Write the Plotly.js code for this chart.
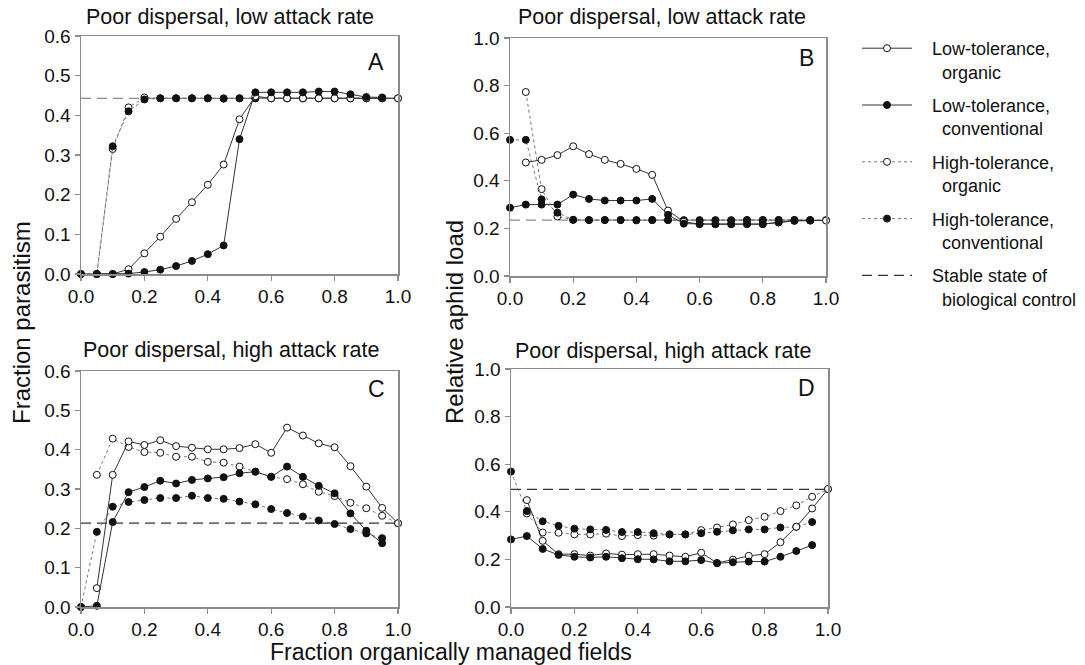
<!DOCTYPE html>
<html>
<head>
<meta charset="utf-8">
<script src="https://cdn.plot.ly/plotly-3.0.1.min.js"></script>
<style>html,body{margin:0;padding:0;background:#fff}#chart{width:1085px;height:665px}</style>
</head>
<body>
<div id="chart"></div>
<script>
// ---- data ----
const xFrac = [0,0.05,0.1,0.15,0.2,0.25,0.3,0.35,0.4,0.45,0.5,0.55,0.6,0.65,0.7,0.75,0.8,0.85,0.9,0.95,1.0];

const NB = "\u00A0";
const seriesNames = [NB+NB+NB+"Low-tolerance,<br>"+NB+NB+NB+NB+NB+"organic",
                     NB+NB+NB+"Low-tolerance,<br>"+NB+NB+NB+NB+NB+"conventional",
                     NB+NB+NB+"High-tolerance,<br>"+NB+NB+NB+NB+NB+"organic",
                     NB+NB+NB+"High-tolerance,<br>"+NB+NB+NB+NB+NB+"conventional",
                     NB+NB+NB+"Stable state of<br>"+NB+NB+NB+NB+NB+"biological control"];

// Panel A: fraction parasitism, poor dispersal, low attack rate
const A_lowOrg  = [null,0,0,0.012,0.052,0.094,0.139,0.181,0.225,0.276,0.39,0.448,0.443,0.443,0.443,0.443,0.443,0.443,0.443,0.443,0.443];
const A_lowCon  = [0,0,0,0.001,0.005,0.011,0.02,0.033,0.05,0.072,0.34,0.458,0.458,0.458,0.458,0.46,0.46,0.453,0.446,0.445,null];
const A_highOrg = [null,0,0.315,0.42,0.445,0.443,0.443,0.443,0.443,0.443,0.443,0.443,0.443,0.443,0.443,0.443,0.443,0.443,0.443,0.443,0.443];
const A_highCon = [0,0,0.322,0.41,0.44,0.443,0.443,0.443,0.443,0.442,0.443,0.443,0.443,0.443,0.443,0.443,0.443,0.443,0.443,0.443,null];

// Panel B: relative aphid load, poor dispersal, low attack rate
const B_lowOrg  = [null,0.477,0.488,0.508,0.545,0.512,0.488,0.471,0.45,0.425,0.275,0.228,0.218,0.218,0.218,0.218,0.218,0.225,0.232,0.233,0.233];
const B_lowCon  = [0.287,0.3,0.3,0.3,0.342,0.324,0.317,0.317,0.317,0.324,0.257,0.22,0.218,0.218,0.218,0.218,0.218,0.225,0.232,0.233,null];
const B_highOrg = [null,0.773,0.365,0.25,0.236,0.235,0.235,0.235,0.235,0.235,0.235,0.235,0.235,0.235,0.235,0.235,0.235,0.235,0.235,0.235,0.235];
const B_highCon = [0.572,0.572,0.322,0.266,0.236,0.235,0.235,0.235,0.234,0.235,0.235,0.233,0.233,0.233,0.233,0.235,0.235,0.235,0.235,0.235,null];

// Panel C: fraction parasitism, poor dispersal, high attack rate
const C_lowOrg  = [null,0.048,0.336,0.421,0.412,0.424,0.409,0.405,0.401,0.401,0.404,0.414,0.392,0.456,0.436,0.416,0.406,0.358,0.306,0.252,0.213];
const C_lowCon  = [0,0.003,0.216,0.292,0.305,0.321,0.314,0.323,0.327,0.33,0.34,0.344,0.331,0.357,0.331,0.308,0.289,0.238,0.194,0.162,null];
const C_highOrg = [null,0.336,0.428,0.407,0.394,0.392,0.382,0.382,0.369,0.367,0.357,0.344,0.331,0.325,0.312,0.293,0.282,0.265,0.251,0.232,0.213];
const C_highCon = [0,0.191,0.255,0.267,0.272,0.277,0.277,0.283,0.277,0.275,0.268,0.261,0.249,0.239,0.23,0.22,0.211,0.198,0.187,0.175,null];

// Panel D: relative aphid load, poor dispersal, high attack rate
const D_lowOrg  = [null,0.449,0.278,0.222,0.222,0.216,0.225,0.22,0.222,0.222,0.216,0.211,0.228,0.185,0.199,0.215,0.222,0.272,0.337,0.414,0.496];
const D_lowCon  = [0.284,0.298,0.244,0.219,0.211,0.208,0.211,0.205,0.201,0.2,0.192,0.192,0.197,0.184,0.188,0.191,0.191,0.211,0.235,0.26,null];
const D_highOrg = [null,0.393,0.313,0.312,0.305,0.305,0.308,0.298,0.302,0.3,0.305,0.305,0.323,0.334,0.347,0.365,0.379,0.403,0.427,0.463,0.495];
const D_highCon = [0.569,0.403,0.36,0.341,0.329,0.326,0.324,0.315,0.315,0.31,0.305,0.305,0.31,0.316,0.322,0.326,0.326,0.334,0.337,0.357,null];

// Stable state of biological control per panel
const stableA = 0.443, stableB = 0.235, stableC = 0.213, stableD = 0.494;

const panelTitles = ["Poor dispersal, low attack rate","Poor dispersal, low attack rate","Poor dispersal, high attack rate","Poor dispersal, high attack rate"];
const panelLetters = ["A","B","C","D"];

// ---- build ----
const FONT = "Arial, Liberation Sans, Helvetica, sans-serif";
const W = 1085, H = 665;
const px = v => v / W;
const py = v => 1 - v / H;

const panels = [
  {xa:'x',  ya:'y',  data:[A_lowOrg,A_lowCon,A_highOrg,A_highCon], stable:stableA, dashColor:'#8a8a8a'},
  {xa:'x2', ya:'y2', data:[B_lowOrg,B_lowCon,B_highOrg,B_highCon], stable:stableB, dashColor:'#8a8a8a'},
  {xa:'x3', ya:'y3', data:[C_lowOrg,C_lowCon,C_highOrg,C_highCon], stable:stableC, dashColor:'#333333'},
  {xa:'x4', ya:'y4', data:[D_lowOrg,D_lowCon,D_highOrg,D_highCon], stable:stableD, dashColor:'#333333'}
];

const styles = [
  {dash:'solid', lc:'#333', lw:1, fill:'#ffffff'},
  {dash:'solid', lc:'#333', lw:1, fill:'#111111'},
  {dash:'dot',   lc:'#777', lw:1, fill:'#ffffff'},
  {dash:'dot',   lc:'#777', lw:1, fill:'#111111'}
];

const traces = [];
// stable dashed lines first (behind)
panels.forEach((p, pi) => {
  traces.push({
    x:[xFrac[0], xFrac[xFrac.length-1]], y:[p.stable, p.stable],
    xaxis:p.xa, yaxis:p.ya, mode:'lines', type:'scatter',
    line:{color:p.dashColor, width:1.2, dash:'10px,6px'},
    name:seriesNames[4], legendgroup:'g5', legendrank:5,
    showlegend: pi===2, hoverinfo:'skip', cliponaxis:false
  });
});
// series: dotted first then solid, conventional on top of organic
const order = [2,3,0,1];
panels.forEach((p, pi) => {
  order.forEach(si => {
    const s = styles[si];
    traces.push({
      x:xFrac, y:p.data[si], xaxis:p.xa, yaxis:p.ya,
      type:'scatter', mode:'lines+markers', connectgaps:false, cliponaxis:false,
      line:{color:s.lc, width:s.lw, dash:s.dash},
      marker:{symbol:'circle', size:7, color:s.fill, line:{color:'#111', width:1}},
      name:seriesNames[si], legendgroup:'g'+(si+1), legendrank:si+1,
      showlegend: pi===0
    });
  });
});

function xAxis(domain, anchor){
  return {domain:domain, anchor:anchor, range:[0,1], tickvals:[0,0.2,0.4,0.6,0.8,1.0], tickformat:'.1f',
    showline:true, linecolor:'#8c8c8c', linewidth:1.5, mirror:true, ticks:'outside', ticklen:5, tickwidth:1.2, tickcolor:'#8c8c8c',
    showgrid:false, zeroline:false, tickfont:{family:FONT, size:19, color:'#111'}, fixedrange:true};
}
function yAxis(domain, anchor, max, step){
  const tv=[]; for(let v=0; v<=max+1e-9; v+=step) tv.push(+v.toFixed(2));
  return {domain:domain, anchor:anchor, range:[0,max], tickvals:tv, tickformat:'.1f',
    showline:true, linecolor:'#8c8c8c', linewidth:1.5, mirror:true, ticks:'outside', ticklen:5, tickwidth:1.2, tickcolor:'#8c8c8c',
    showgrid:false, zeroline:false, tickfont:{family:FONT, size:19, color:'#111'}, fixedrange:true};
}

const annotations = [];
const titlePos = [[230,17],[662,17],[231,350],[663,351]];
const letterPos = [[376,62],[806,58],[376,389],[806,388]];
panelTitles.forEach((t,i)=>{
  annotations.push({text:t, xref:'paper', yref:'paper', x:px(titlePos[i][0]), y:py(titlePos[i][1]),
    xanchor:'center', yanchor:'middle', showarrow:false, font:{family:FONT, size:21.5, color:'#111'}});
  annotations.push({text:panelLetters[i], xref:'paper', yref:'paper', x:px(letterPos[i][0]), y:py(letterPos[i][1]),
    xanchor:'center', yanchor:'middle', showarrow:false, font:{family:FONT, size:23, color:'#111'}});
});
annotations.push({text:'Fraction parasitism', xref:'paper', yref:'paper', x:px(21), y:py(323), textangle:-90,
  xanchor:'center', yanchor:'middle', showarrow:false, font:{family:FONT, size:24, color:'#111'}});
annotations.push({text:'Relative aphid load', xref:'paper', yref:'paper', x:px(455), y:py(322), textangle:-90,
  xanchor:'center', yanchor:'middle', showarrow:false, font:{family:FONT, size:24, color:'#111'}});
annotations.push({text:'Fraction organically managed fields', xref:'paper', yref:'paper', x:px(451), y:py(652),
  xanchor:'center', yanchor:'middle', showarrow:false, font:{family:FONT, size:23, color:'#111'}});

const layout = {
  width:W, height:H, margin:{l:0,r:0,t:0,b:0}, paper_bgcolor:'#fff', plot_bgcolor:'#fff',
  font:{family:FONT, color:'#111'},
  xaxis: xAxis([px(81),px(398)], 'y'),
  yaxis: yAxis([py(274),py(36)], 'x', 0.6, 0.1),
  xaxis2: xAxis([px(510),px(826)], 'y2'),
  yaxis2: yAxis([py(276),py(38)], 'x2', 1.0, 0.2),
  xaxis3: xAxis([px(81),px(398)], 'y3'),
  yaxis3: yAxis([py(607),py(371)], 'x3', 0.6, 0.1),
  xaxis4: xAxis([px(511),px(828)], 'y4'),
  yaxis4: yAxis([py(607),py(369)], 'x4', 1.0, 0.2),
  showlegend:true,
  legend:{x:px(857), y:py(30), xanchor:'left', yanchor:'top', traceorder:'grouped', tracegroupgap:7,
    valign:'top', font:{family:FONT, size:18, color:'#111'}, bgcolor:'rgba(0,0,0,0)', itemwidth:50},
  annotations:annotations
};

Plotly.newPlot('chart', traces, layout, {displayModeBar:false, staticPlot:true});
</script>
</body>
</html>
